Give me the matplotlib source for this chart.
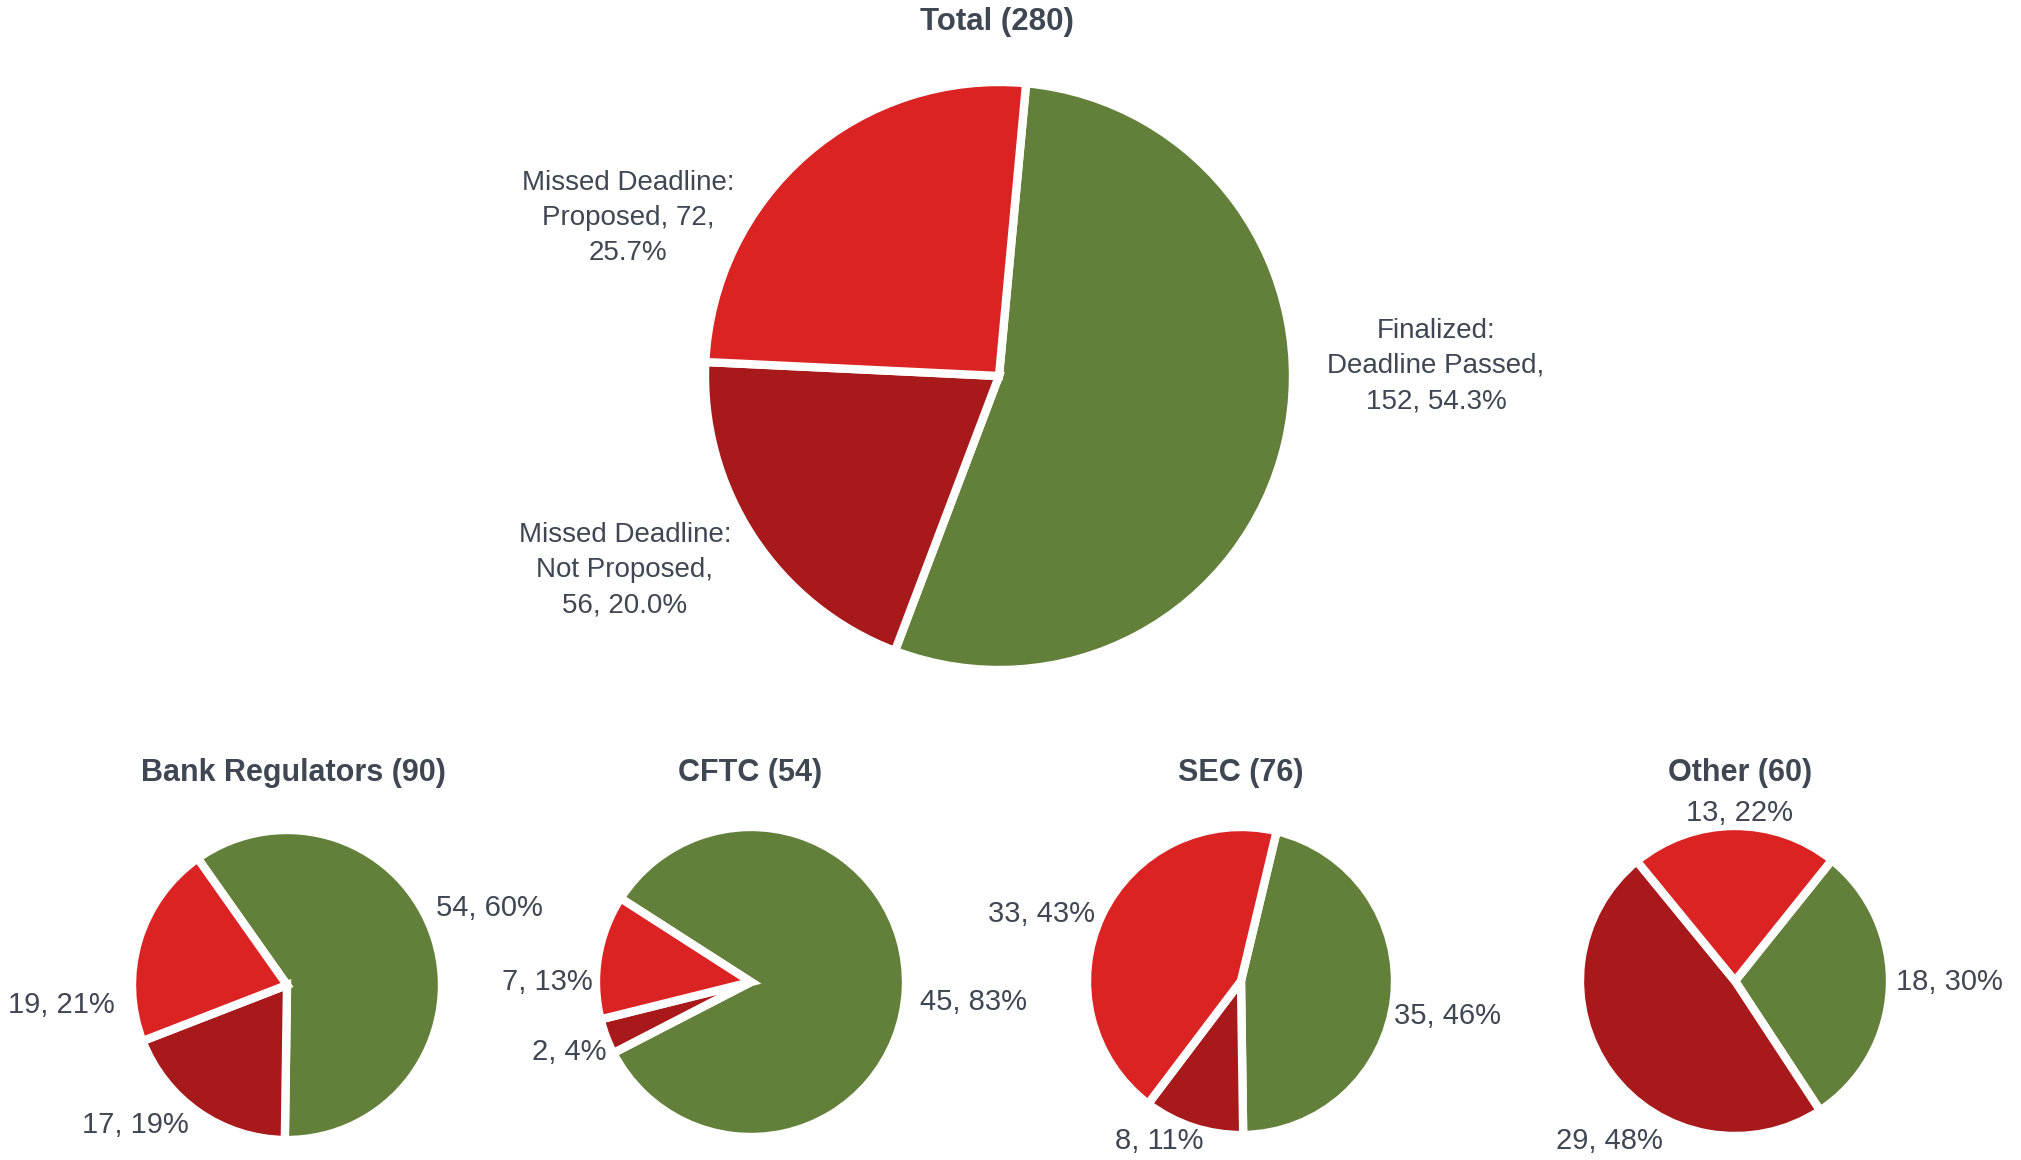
# rule deadlines: status of required rulemakings, total and by regulator
import numpy as np
import matplotlib.pyplot as plt

plt.rcParams['font.family'] = ['Liberation Sans', 'DejaVu Sans']

# data
groups = ['Total', 'Bank Regulators', 'CFTC', 'SEC', 'Other']
finalized = [152, 54, 45, 35, 18]
not_proposed = [56, 17, 2, 8, 29]
proposed = [72, 19, 7, 33, 13]

# label text for the big pie (wrapped like the original)
big_fmt = ['Finalized:\nDeadline Passed,\n{v}, {p}',
           'Missed Deadline:\nNot Proposed,\n{v}, {p}',
           'Missed Deadline:\nProposed, {v},\n{p}']

colors = ['#63803a', '#a8191b', '#dc2324']
txt = '#3e4752'

# layout in pixels (image y, top down)
W, H = 2021, 1160
centers = [(999, 376), (287, 985), (751, 982), (1241, 981), (1735, 981)]
radii = [294, 155, 155, 154, 155]
starts = [5.3, -35.2, -57.3, 13.4, 38.7]   # degrees clockwise from 12 o'clock
title_pos = [(997, 22), (293, 773), (750, 773), (1241, 773), (1740, 773)]
label_pos = [
    [(1436, 366), (625, 570), (628, 218)],
    [(489, 908), (135, 1125), (61, 1005)],
    [(974, 1002), (569, 1052), (547, 982)],
    [(1448, 1016), (1159, 1141), (1042, 914)],
    [(1949, 982), (1609, 1141), (1740, 813)],
]

fig = plt.figure(figsize=(W / 100, H / 100), dpi=100)
ax = fig.add_axes([0, 0, 1, 1])

for i, g in enumerate(groups):
    vals = np.array([finalized[i], not_proposed[i], proposed[i]])
    total = vals.sum()
    cx, cy = centers[i]
    ax.pie(vals, colors=colors, center=(cx, H - cy), radius=radii[i],
           startangle=90 - starts[i], counterclock=False,
           wedgeprops=dict(edgecolor='white', linewidth=6), frame=True)
    tx, ty = title_pos[i]
    ax.text(tx, H - ty, '%s (%d)' % (g, total), ha='center', va='center',
            fontsize=22.5 if i == 0 else 22, fontweight='bold', color=txt)
    for j, v in enumerate(vals):
        if i == 0:
            s = big_fmt[j].format(v=v, p='%.1f%%' % (100.0 * v / total))
            fs = 20
        else:
            s = '%d, %d%%' % (v, round(100.0 * v / total))
            fs = 21
        lx, ly = label_pos[i][j]
        ax.text(lx, H - ly, s, ha='center', va='center', multialignment='center',
                fontsize=fs, color=txt, linespacing=1.45)

ax.set_xlim(0, W)
ax.set_ylim(0, H)
ax.set_aspect('equal')
ax.axis('off')

plt.savefig('out.png', dpi=100)
